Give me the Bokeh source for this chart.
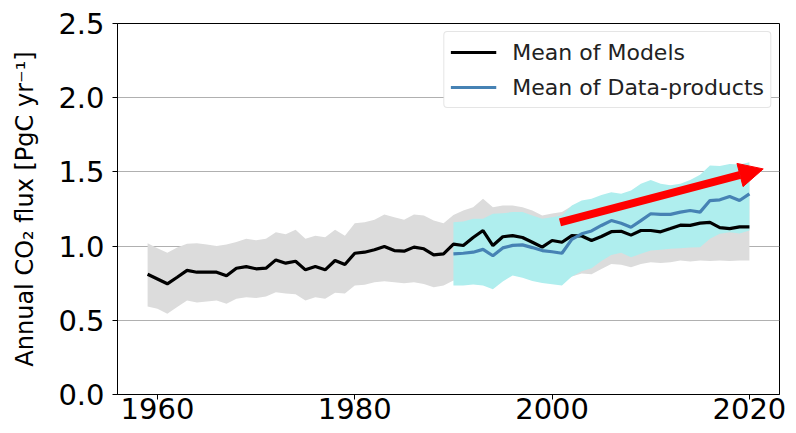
import numpy as np
from bokeh.plotting import figure
from bokeh.models import (Range1d, FixedTicker, PrintfTickFormatter, Legend,
                          LegendItem, Arrow, NormalHead)
from bokeh.embed import file_html
from bokeh.resources import INLINE

# --- Annual ocean CO2 flux, 1959-2020 (models) and 1990-2020 (data-products) ---
model_years = list(range(1959, 2021))
model_mean = [
    0.810, 0.778, 0.746, 0.790, 0.836, 0.824, 0.824, 0.824, 0.800, 0.851,
    0.862, 0.847, 0.851, 0.907, 0.885, 0.898, 0.840, 0.862, 0.840, 0.903,
    0.876, 0.952, 0.959, 0.975, 0.997, 0.970, 0.966, 0.993, 0.982, 0.941,
    0.948, 1.013, 1.004, 1.058, 1.105, 1.004, 1.063, 1.071, 1.058, 1.026,
    0.993, 1.038, 1.026, 1.071, 1.068, 1.038, 1.065, 1.097, 1.100, 1.074,
    1.105, 1.105, 1.096, 1.118, 1.141, 1.140, 1.155, 1.160, 1.125, 1.118,
    1.130, 1.130,
]
model_upper = [
    1.020, 0.985, 0.955, 0.990, 1.015, 1.020, 1.010, 1.000, 1.010, 1.027,
    1.049, 1.040, 1.050, 1.094, 1.080, 1.110, 1.050, 1.070, 1.060, 1.110,
    1.070, 1.154, 1.160, 1.177, 1.213, 1.195, 1.177, 1.213, 1.206, 1.172,
    1.154, 1.210, 1.240, 1.262, 1.319, 1.262, 1.274, 1.274, 1.262, 1.240,
    1.206, 1.220, 1.229, 1.270, 1.300, 1.300, 1.320, 1.340, 1.330, 1.350,
    1.380, 1.400, 1.380, 1.380, 1.390, 1.400, 1.420, 1.450, 1.450, 1.460,
    1.460, 1.470,
]
model_lower = [
    0.593, 0.577, 0.544, 0.590, 0.633, 0.620, 0.627, 0.633, 0.611, 0.645,
    0.656, 0.650, 0.660, 0.689, 0.680, 0.675, 0.633, 0.656, 0.645, 0.685,
    0.680, 0.734, 0.740, 0.757, 0.763, 0.757, 0.750, 0.757, 0.745, 0.723,
    0.734, 0.768, 0.760, 0.770, 0.780, 0.750, 0.780, 0.810, 0.800, 0.780,
    0.770, 0.760, 0.760, 0.795, 0.815, 0.810, 0.845, 0.880, 0.875, 0.858,
    0.880, 0.892, 0.886, 0.892, 0.903, 0.897, 0.903, 0.899, 0.903, 0.899,
    0.903, 0.903,
]

data_years = list(range(1990, 2021))
data_mean = [
    0.948, 0.952, 0.959, 0.978, 0.935, 0.988, 1.005, 1.008, 0.990, 0.970,
    0.962, 0.952, 1.045, 1.083, 1.102, 1.139, 1.172, 1.154, 1.127, 1.172,
    1.218, 1.214, 1.214, 1.229, 1.240, 1.229, 1.307, 1.312, 1.334, 1.307,
    1.352,
]
data_upper = [
    1.161, 1.165, 1.184, 1.184, 1.218, 1.222, 1.229, 1.229, 1.206, 1.184,
    1.195, 1.206, 1.274, 1.307, 1.319, 1.345, 1.363, 1.352, 1.375, 1.420,
    1.445, 1.420, 1.410, 1.420, 1.445, 1.480, 1.543, 1.540, 1.554, 1.550,
    1.565,
]
data_lower = [
    0.734, 0.734, 0.742, 0.734, 0.710, 0.762, 0.802, 0.787, 0.765, 0.752,
    0.743, 0.734, 0.795, 0.830, 0.850, 0.900, 0.940, 0.955, 0.925, 0.948,
    0.970, 0.975, 0.982, 0.985, 0.990, 0.993, 1.049, 1.083, 1.094, 1.085,
    1.105,
]

# trend arrow drawn across the data-product period (start, end in data units)
trend_start = (2000.8, 1.16)
trend_end = (2021.4, 1.52)

x_ticks = [1960, 1980, 2000, 2020]
y_ticks = [0.0, 0.5, 1.0, 1.5, 2.0, 2.5]

FONT = "DejaVu Sans"

p = figure(width=796, height=433, output_backend="svg", toolbar_location=None,
           x_range=Range1d(1955.95, 2023.05), y_range=Range1d(0, 2.5),
           min_border_left=117, min_border_right=17, min_border_top=23,
           min_border_bottom=39)

p.background_fill_color = "white"
p.border_fill_color = "white"
p.outline_line_color = "black"
p.outline_line_width = 1
p.outline_line_alpha = 1.0

# grid: horizontal lines only
p.xgrid.visible = False
p.ygrid.grid_line_color = "#b0b0b0"
p.ygrid.grid_line_width = 1

# axes
p.xaxis.ticker = FixedTicker(ticks=x_ticks)
p.yaxis.ticker = FixedTicker(ticks=y_ticks)
p.yaxis.formatter = PrintfTickFormatter(format="%.1f")
for ax in (p.xaxis, p.yaxis):
    ax.axis_line_color = "black"
    ax.major_tick_line_color = "black"
    ax.major_tick_out = 5
    ax.major_tick_in = 0
    ax.minor_tick_line_color = None
    ax.major_label_text_font = FONT
    ax.major_label_text_font_size = "29px"
    ax.major_label_text_color = "black"
p.xaxis.major_label_standoff = -2
p.yaxis.major_label_standoff = 8
p.yaxis.axis_label = "Annual CO\u2082 flux [PgC yr\u207b\u00b9]"
p.yaxis.axis_label_text_font = FONT
p.yaxis.axis_label_text_font_size = "24px"
p.yaxis.axis_label_text_font_style = "normal"
p.yaxis.axis_label_text_color = "black"
p.yaxis.axis_label_standoff = 16

# spread bands
p.varea(x=model_years, y1=model_lower, y2=model_upper, fill_color="#dcdcdc")
p.varea(x=data_years, y1=data_lower, y2=data_upper, fill_color="#afeeee")

# means
r_models = p.line(model_years, model_mean, line_color="black", line_width=3.2)
r_data = p.line(data_years, data_mean, line_color="#4682b4", line_width=3.2)

# trend arrow
p.add_layout(Arrow(end=NormalHead(size=24, fill_color="red", line_color="red"),
                   x_start=trend_start[0], y_start=trend_start[1],
                   x_end=trend_end[0], y_end=trend_end[1],
                   line_color="red", line_width=8))

legend = Legend(items=[LegendItem(label="Mean of Models", renderers=[r_models]),
                       LegendItem(label="Mean of Data-products", renderers=[r_data])],
                location="top_right")
legend.label_text_font = FONT
legend.label_text_font_size = "22px"
legend.label_text_color = "#222222"
legend.glyph_width = 46
legend.glyph_height = 28
legend.label_standoff = 16
legend.spacing = 7
legend.padding = 6
legend.margin = 8
legend.border_line_color = "#cccccc"
legend.border_line_width = 1
legend.border_radius = 4
legend.background_fill_alpha = 1.0
p.add_layout(legend)

open("out.html", "w").write(file_html(p, INLINE))
